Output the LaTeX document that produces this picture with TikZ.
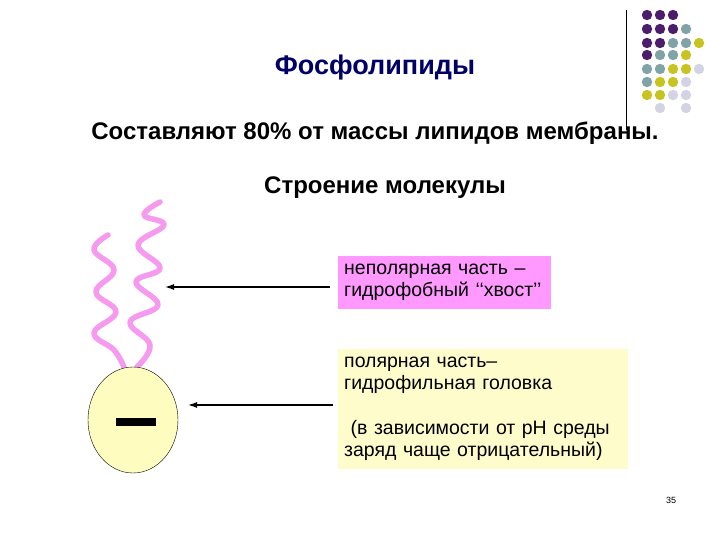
\documentclass[tikz,border=0pt]{standalone}
\usepackage{fontspec}
\setmainfont{Liberation Sans}
\usetikzlibrary{shapes.geometric,arrows.meta}
\begin{document}
\begin{tikzpicture}[x=1pt,y=-1pt,
  lbl/.style={font=\fontsize{19.5}{22}\selectfont,align=left,anchor=north west,inner xsep=6pt,inner ysep=5pt},
  arr/.style={-{Latex[length=9pt,width=6pt]},line width=1.3pt},
  tail/.style={draw=tailc,line width=5.5pt,line cap=round,line join=round}]
\useasboundingbox (0,0) rectangle (720,540);
\definecolor{cP}{HTML}{4B1D6B}\definecolor{cT}{HTML}{7FA3A6}\definecolor{cY}{HTML}{C8C320}\definecolor{cL}{HTML}{D3D3E3}
\definecolor{pinkbox}{HTML}{FF99FF}\definecolor{tailc}{HTML}{F59AEF}
\draw[line width=0.8pt] (626,10) -- (626,130);
\foreach \r/\row in {15/{P,P,P},29/{P,P,P,T},43/{P,P,T,T,Y},55/{P,T,T,Y},69/{T,T,Y,Y,L},82/{T,Y,Y,L},95/{Y,Y,L,L}}{
  \foreach \c [count=\i] in \row {\fill[c\c] (634+13*\i,\r) circle (5.2);}}
\fill[cL] (660,108) circle (5.2); \fill[cL] (686,108) circle (5.2);
\node[text=blue!40!black,font=\bfseries\fontsize{27}{30}\selectfont] (title) at (375,68) {Фосфолипиды};
\node[font=\bfseries\fontsize{24}{28}\selectfont] (l1) at (375,133) {Составляют 80\% от массы липидов мембраны.};
\node[font=\bfseries\fontsize{24}{28}\selectfont] (l2) at (385,188) {Строение молекулы};
\draw[tail] plot[smooth,tension=0.7] coordinates {(108,235)(94,250)(114,270)(96,292)(116,312)(94,333)(114,350)(124,367)};
\draw[tail] plot[smooth,tension=0.7] coordinates {(160,202)(144,215)(164,225)(138,245)(160,268)(136,282)(158,305)(130,322)(150,345)(137,367)};
\node[draw=black,fill=yellow!25,ellipse,minimum width=90,minimum height=106,inner sep=0] (head) at (133,420) {};
\fill (116,418) rectangle (156,426);
\node[lbl,fill=pinkbox,minimum width=213,minimum height=53,text width=201] (np) at (338,256) {неполярная часть –\\гидрофобный ‘‘хвост’’};
\node[lbl,fill=yellow!20,minimum width=290,minimum height=114,text width=278,inner ysep=8pt] (p) at (338,349) {полярная часть–\\гидрофильная головка\\[23pt]\ (в зависимости от рН среды\\заряд чаще отрицательный)};
\draw[arr] (330,287) -- (165,287);
\draw[arr] (333,405) -- (188,405);
\node[font=\fontsize{9}{10}\selectfont] (pg) at (671,500) {35};
\end{tikzpicture}
\end{document}
